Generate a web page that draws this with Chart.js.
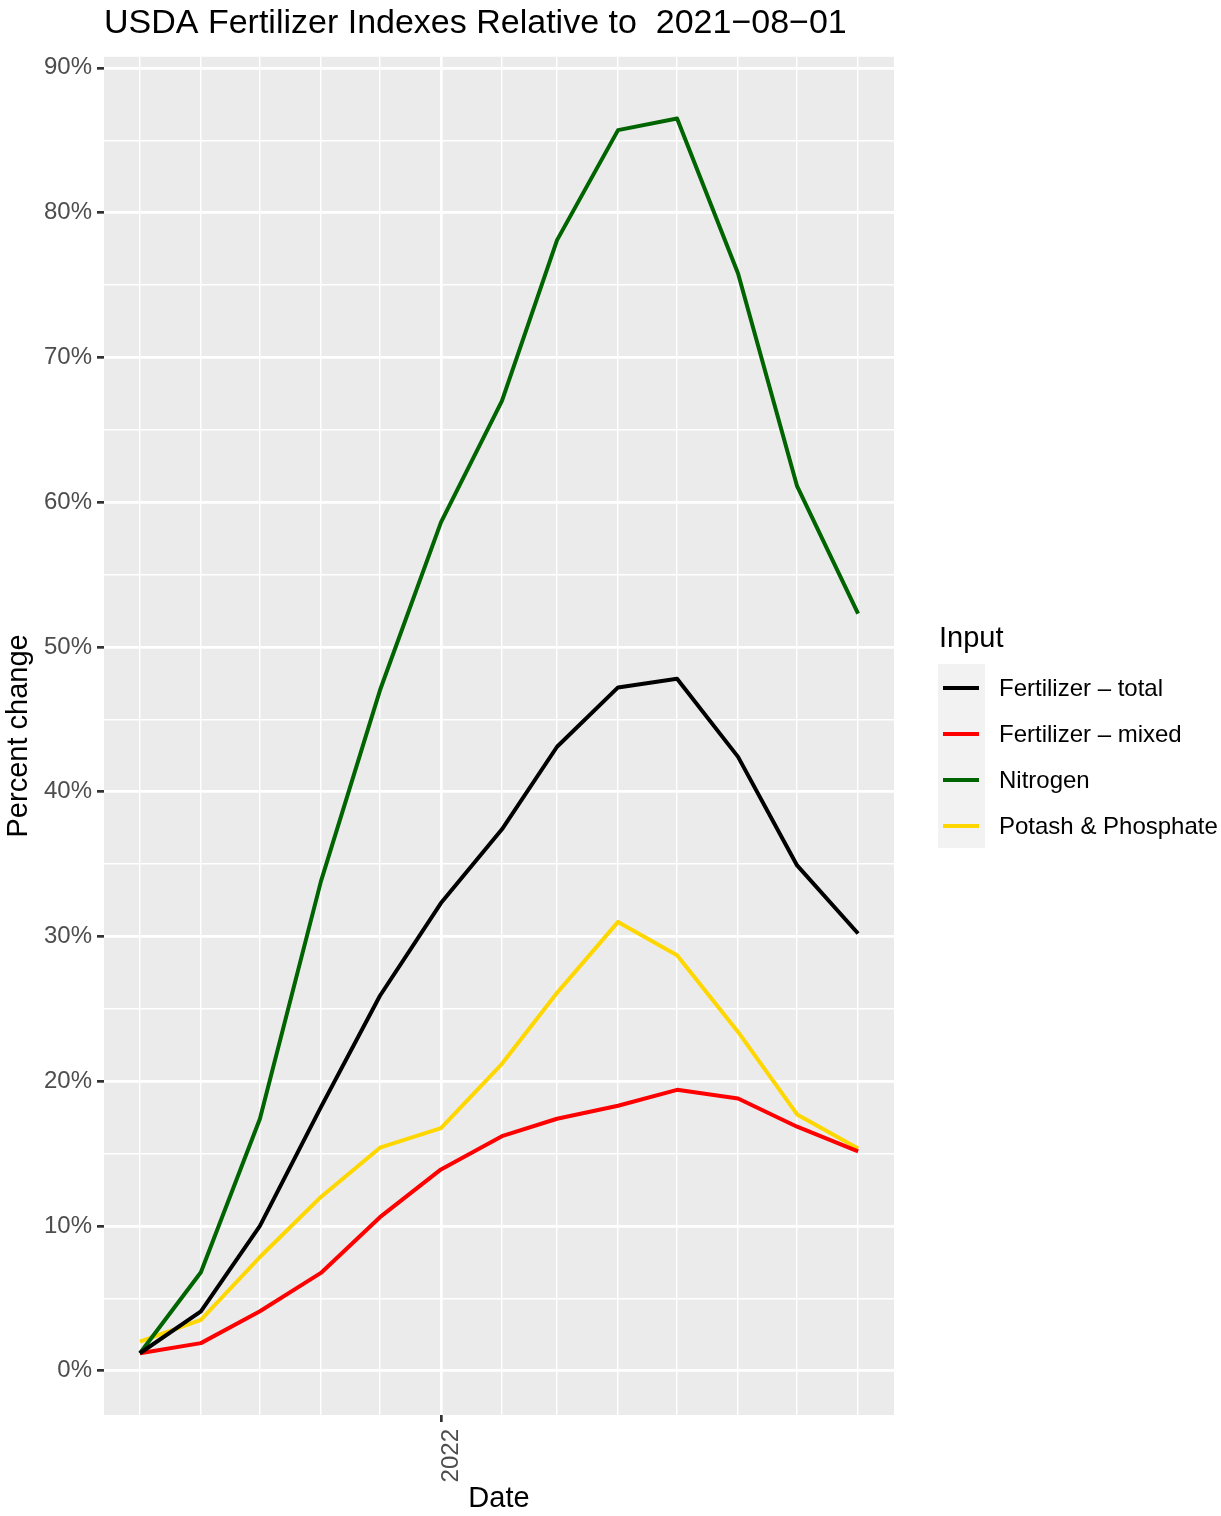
<!DOCTYPE html>
<html lang="en">
<head>
    <meta charset="UTF-8">
    <title>USDA Fertilizer Indexes</title>
    <script src="https://cdn.jsdelivr.net/npm/chart.js"></script>
    <style>
        html, body {
            margin: 0;
            padding: 0;
            background: #ffffff;
        }
        .chart-container {
            width: 1221px;
            height: 1516px;
        }
    </style>
</head>
<body>
    <div class="chart-container">
        <canvas id="grafico" width="1221" height="1516"></canvas>
    </div>

    <script>
        // monthly dates, values are % change relative to 2021-08-01
        const datas = ['2021-08-01', '2021-09-01', '2021-10-01', '2021-11-01', '2021-12-01', '2022-01-01',
            '2022-02-01', '2022-03-01', '2022-04-01', '2022-05-01', '2022-06-01', '2022-07-01', '2022-08-01'];
        const totalFert = [1.2, 4.1, 10.0, 18.2, 25.9, 32.3, 37.4, 43.1, 47.2, 47.8, 42.4, 34.9, 30.2];
        const mixedFert = [1.2, 1.9, 4.1, 6.75, 10.6, 13.9, 16.2, 17.4, 18.3, 19.4, 18.8, 16.85, 15.15];
        const nitrogen = [1.2, 6.8, 17.4, 33.8, 47.0, 58.6, 67.0, 78.1, 85.7, 86.5, 75.8, 61.1, 52.3];
        const potash = [2.0, 3.5, 7.85, 12.0, 15.4, 16.75, 21.2, 26.1, 31.0, 28.7, 23.4, 17.7, 15.35];
        const yTicks = [0, 5, 10, 15, 20, 25, 30, 35, 40, 45, 50, 55, 60, 65, 70, 75, 80, 85, 90];
        const xLabelDate = '2022-01-01';
        const xLabelText = '2022';

        const baseDate = Date.parse(datas[0]);
        const dia = (d) => (Date.parse(d) - baseDate) / 86400000;
        const xs = datas.map(dia);
        const xMarca = dia(xLabelDate);

        // ggplot style 5% expansion of the data range
        const todos = [].concat(totalFert, mixedFert, nitrogen, potash);
        const yMin = Math.min(...todos), yMax = Math.max(...todos);
        const xMin = Math.min(...xs), xMax = Math.max(...xs);
        const yExp = (yMax - yMin) * 0.05, xExp = (xMax - xMin) * 0.05;

        const serie = (valores) => valores.map((v, i) => ({ x: xs[i], y: v }));
        const fonte = 'Liberation Sans, Arial, Helvetica, sans-serif';

        const fundoPainel = {
            id: 'fundoPainel',
            beforeDraw(chart) {
                const a = chart.chartArea;
                const c = chart.ctx;
                c.save();
                c.fillStyle = '#EBEBEB';
                c.fillRect(a.left, a.top, a.right - a.left, a.bottom - a.top);
                c.restore();
            }
        };

        // legend drawn like ggplot's (grey key boxes)
        const legendaGG = {
            id: 'legendaGG',
            afterDraw(chart) {
                const c = chart.ctx;
                const x0 = 938, topo = 664, passo = 46;
                const ds = chart.data.datasets;
                c.save();
                c.fillStyle = '#000000';
                c.font = '29px ' + fonte;
                c.textBaseline = 'alphabetic';
                c.textAlign = 'left';
                c.fillText('Input', x0 + 1, 647);
                c.fillStyle = '#F2F2F2';
                c.fillRect(x0, topo, 47, passo * ds.length);
                c.font = '24px ' + fonte;
                c.textBaseline = 'middle';
                ds.forEach((d, i) => {
                    const y = topo + passo * i + passo / 2 + 1;
                    c.strokeStyle = d.borderColor;
                    c.lineWidth = 4;
                    c.beginPath();
                    c.moveTo(x0 + 5, y);
                    c.lineTo(x0 + 41, y);
                    c.stroke();
                    c.fillStyle = '#000000';
                    c.fillText(d.label, 999, y + 1);
                });
                c.restore();
            }
        };

        const ctx = document.getElementById('grafico').getContext('2d');
        const chart = new Chart(ctx, {
            type: 'line',
            data: {
                datasets: [
                    { label: 'Fertilizer \u2013 total', data: serie(totalFert), borderColor: '#000000' },
                    { label: 'Fertilizer \u2013 mixed', data: serie(mixedFert), borderColor: '#FF0000' },
                    { label: 'Nitrogen', data: serie(nitrogen), borderColor: '#006400' },
                    { label: 'Potash & Phosphate', data: serie(potash), borderColor: '#FFD700' }
                ].map(d => Object.assign(d, {
                    borderWidth: 4,
                    pointRadius: 0,
                    tension: 0,
                    fill: false,
                    borderJoinStyle: 'round'
                }))
            },
            options: {
                responsive: false,
                animation: false,
                layout: {
                    padding: { top: 0, right: 327, bottom: 0, left: 0 }
                },
                plugins: {
                    legend: { display: false },
                    tooltip: { enabled: false },
                    title: {
                        display: true,
                        text: 'USDA Fertilizer Indexes Relative to  2021\u221208\u221201',
                        align: 'start',
                        fullSize: false,
                        color: '#000000',
                        font: { family: fonte, size: 34, weight: 'normal', lineHeight: 1.2 },
                        padding: { top: 3, bottom: 13 }
                    }
                },
                scales: {
                    x: {
                        type: 'linear',
                        min: xMin - xExp,
                        max: xMax + xExp,
                        afterBuildTicks: (scale) => {
                            scale.ticks = xs.map(v => ({ value: v }));
                        },
                        afterFit: (scale) => { scale.height = 101; },
                        border: { display: false },
                        grid: {
                            color: '#FFFFFF',
                            lineWidth: (c) => c.tick && c.tick.value === xMarca ? 2.7 : 1.4,
                            tickLength: 7,
                            tickWidth: 2.7,
                            tickColor: (c) => c.tick && c.tick.value === xMarca ? '#333333' : 'rgba(0,0,0,0)'
                        },
                        ticks: {
                            autoSkip: false,
                            minRotation: 90,
                            maxRotation: 90,
                            padding: 7,
                            labelOffset: 10,
                            color: '#4D4D4D',
                            font: { family: fonte, size: 24 },
                            callback: (v) => v === xMarca ? xLabelText : ''
                        },
                        title: {
                            display: true,
                            text: 'Date',
                            color: '#000000',
                            font: { family: fonte, size: 29 },
                            padding: { top: 0, bottom: 0 }
                        }
                    },
                    y: {
                        type: 'linear',
                        min: yMin - yExp,
                        max: yMax + yExp,
                        afterBuildTicks: (scale) => {
                            scale.ticks = yTicks.map(v => ({ value: v }));
                        },
                        afterFit: (scale) => { scale.width = 104; },
                        border: { display: false },
                        grid: {
                            color: '#FFFFFF',
                            lineWidth: (c) => c.tick && c.tick.value % 10 === 0 ? 2.7 : 1.4,
                            tickLength: 7,
                            tickWidth: 2.7,
                            tickColor: (c) => c.tick && c.tick.value % 10 === 0 ? '#333333' : 'rgba(0,0,0,0)'
                        },
                        ticks: {
                            autoSkip: false,
                            padding: 5,
                            color: '#4D4D4D',
                            font: { family: fonte, size: 24 },
                            callback: (v) => v % 10 === 0 ? v + '%' : ''
                        },
                        title: {
                            display: true,
                            text: 'Percent change',
                            color: '#000000',
                            font: { family: fonte, size: 29 },
                            padding: { top: 2, bottom: 0 }
                        }
                    }
                }
            },
            plugins: [fundoPainel, legendaGG]
        });
    </script>
</body>
</html>
